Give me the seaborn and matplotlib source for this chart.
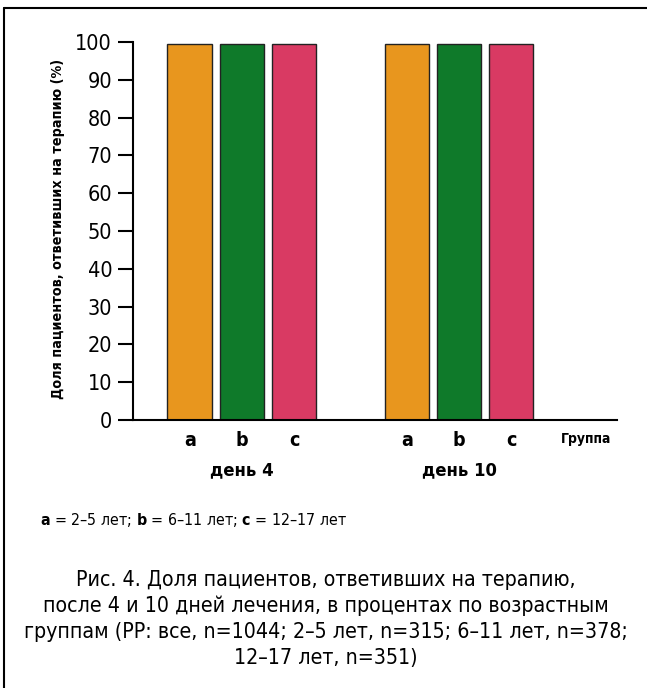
import matplotlib
matplotlib.use("Agg")
import matplotlib.pyplot as plt
from matplotlib.lines import Line2D
import seaborn as sns
import pandas as pd

# Data
days = ["день 4", "день 10"]
groups = ["a", "b", "c"]
day4_values = [99.5, 99.5, 99.5]
day10_values = [99.5, 99.5, 99.5]
colors = ["#e8961e", "#0f7a2a", "#d93a63"]
yticks = [0, 10, 20, 30, 40, 50, 60, 70, 80, 90, 100]

df = pd.DataFrame({
    "day": [days[0]] * 3 + [days[1]] * 3,
    "group": groups * 2,
    "value": day4_values + day10_values,
})

sns.set_theme(style="white")
plt.rcParams["font.family"] = ["DejaVu Sans"]
plt.rcParams["font.stretch"] = "condensed"
plt.rcParams["text.color"] = "black"
plt.rcParams["xtick.color"] = "black"
plt.rcParams["ytick.color"] = "black"
plt.rcParams["axes.labelcolor"] = "black"
plt.rcParams["mathtext.fontset"] = "custom"
plt.rcParams["mathtext.bf"] = "DejaVu Sans:bold"

fig = plt.figure(figsize=(6.47, 6.88), dpi=100)
ax = fig.add_axes([133 / 647, 1 - 420 / 688, (617 - 133) / 647, (420 - 42) / 688])

sns.barplot(data=df, x="day", y="value", hue="group", order=days, hue_order=groups,
            palette=colors, width=0.72, gap=0.14, edgecolor="#222222", linewidth=1.0,
            saturation=1, legend=False, ax=ax)

ax.set_ylim(0, 100)
ax.set_xlim(-0.502, 1.728)
ax.set_yticks(yticks)
ax.set_yticklabels([str(t) for t in yticks], fontsize=15.5)
ax.tick_params(axis="y", length=11, width=1.5, color="black", pad=4, left=True)

# group letters under every bar
centers = []
labels = []
for i, cont in enumerate(ax.containers):
    for bar in cont:
        centers.append(bar.get_x() + bar.get_width() / 2)
        labels.append(groups[i])
order = sorted(range(len(centers)), key=lambda k: centers[k])
ax.set_xticks([centers[k] for k in order])
ax.set_xticklabels([labels[k] for k in order], fontsize=14, fontweight="bold")
ax.tick_params(axis="x", length=0, pad=8)

for sp in ["top", "right"]:
    ax.spines[sp].set_visible(False)
for sp in ["left", "bottom"]:
    ax.spines[sp].set_color("black")
    ax.spines[sp].set_linewidth(1.5)

ax.set_xlabel("")
ax.set_ylabel("Доля пациентов, ответивших на терапию (%)", fontsize=10.3,
              fontweight="bold")
ax.yaxis.set_label_coords(-68 / 484, 0.505)

# day labels below the groups
for i, d in enumerate(days):
    ax.text(i, -13.2, d, ha="center", va="center", fontsize=13.2, fontweight="bold",
            clip_on=False)
ax.text(1.585, -5.0, "Группа", ha="center", va="center", fontsize=10,
        fontweight="bold", clip_on=False)

# legend line for the age groups
fig.text(40 / 647, 1 - 520 / 688,
         r"$\mathbf{a}$ = 2–5 лет; $\mathbf{b}$ = 6–11 лет; $\mathbf{c}$ = 12–17 лет",
         ha="left", va="center", fontsize=11.4)

caption = ("Рис. 4. Доля пациентов, ответивших на терапию,\n"
           "после 4 и 10 дней лечения, в процентах по возрастным\n"
           "группам (PP: все, n=1044; 2–5 лет, n=315; 6–11 лет, n=378;\n"
           "12–17 лет, n=351)")
fig.text(326 / 647, 1 - 619 / 688, caption, ha="center", va="center",
         fontsize=15.3, linespacing=1.37)

# frame lines
fig.add_artist(Line2D([4 / 647, 4 / 647], [0, 1 - 8 / 688], color="black",
                      linewidth=1.5, transform=fig.transFigure))
fig.add_artist(Line2D([4 / 647, 1], [1 - 8 / 688, 1 - 8 / 688], color="black",
                      linewidth=1.5, transform=fig.transFigure))

fig.savefig("out.png", dpi=100, facecolor="white")
